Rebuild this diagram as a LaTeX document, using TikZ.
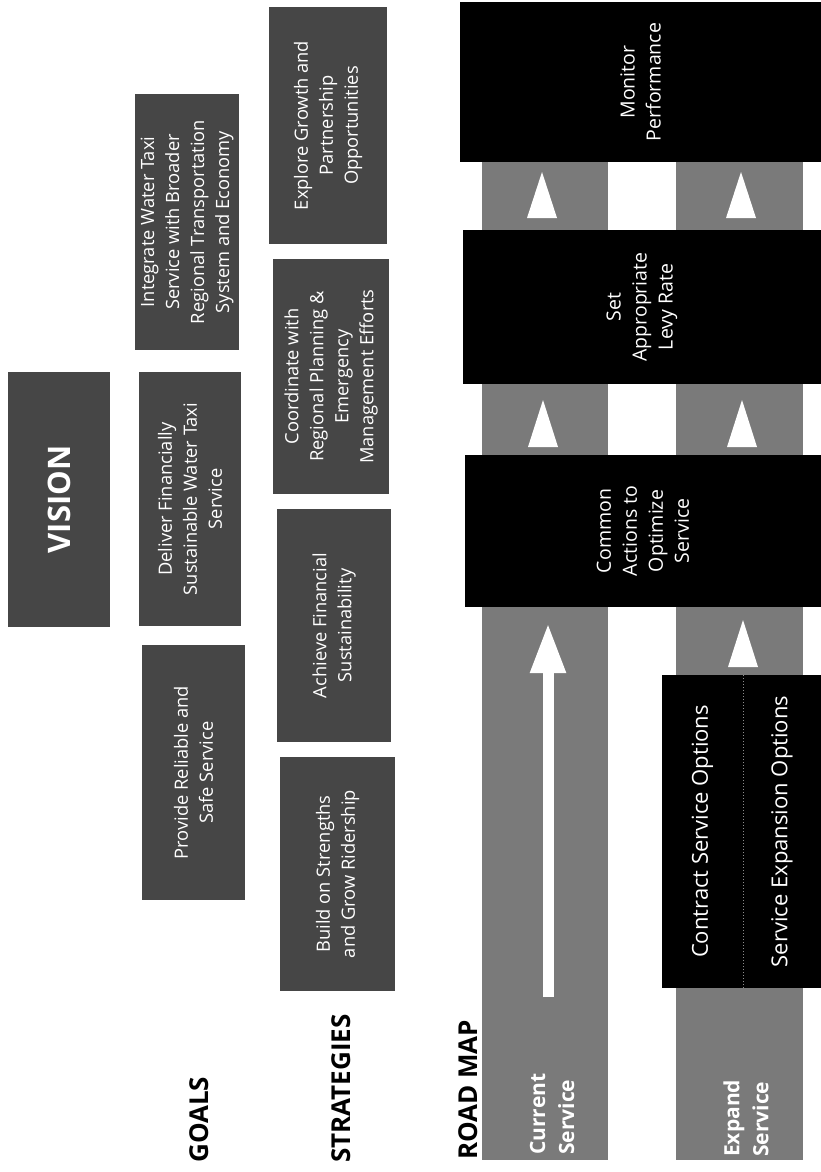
\documentclass[tikz,border=0pt]{standalone}
\usepackage{fontspec}
\setmainfont{Open Sans}
\usetikzlibrary{arrows.meta}
\definecolor{boxgray}{HTML}{464646}
\definecolor{lanegray}{HTML}{7A7A7A}
\definecolor{divgray}{HTML}{8C8C8C}
\begin{document}
\begin{tikzpicture}[x=1pt,y=-1pt,
  darkbox/.style={fill=boxgray, text=white, rotate=90, inner sep=0pt, align=center,
    font=\fontsize{18.3}{25}\selectfont},
  blackbox/.style={fill=black, text=white, rotate=90, inner sep=0pt, align=center,
    font=\fontsize{19.5}{26}\selectfont},
  optbox/.style={fill=black, text=white, rotate=90, inner sep=0pt, align=center,
    font=\fontsize{22}{26}\selectfont},
  sectlabel/.style={rotate=90, anchor=base west, inner sep=0pt, text=black,
    font=\bfseries\fontsize{26}{30}\selectfont},
  lanelabel/.style={rotate=90, anchor=west, inner sep=0pt, align=left, text=white,
    font=\bfseries\fontsize{21}{29}\selectfont},
  lane/.style={fill=lanegray},
  tri/.style={fill=white},
  fatarrow/.style={draw=white, line width=11pt, -{Triangle[width=33pt,length=50pt]}},
]
% canvas
\useasboundingbox[fill=white] (0,0) rectangle (821,1172);

% ---------- vision ----------
\node[darkbox, minimum width=255pt, minimum height=102pt] (vision) at (59,499.5)
  {\bfseries\fontsize{31}{36}\selectfont VISION};

% ---------- goals ----------
\node[darkbox, minimum width=256pt, minimum height=104pt] (g3) at (187,222)
  {Integrate Water Taxi\\Service with Broader\\Regional Transportation\\System and Economy};
\node[darkbox, minimum width=254pt, minimum height=102pt] (g2) at (190,499)
  {Deliver Financially\\Sustainable Water Taxi\\Service};
\node[darkbox, minimum width=255pt, minimum height=103pt] (g1) at (193.5,772.5)
  {Provide Reliable and\\Safe Service};

% ---------- strategies ----------
\node[darkbox, minimum width=237pt, minimum height=118pt] (s5) at (328,125.5)
  {Explore Growth and\\Partnership\\Opportunities};
\node[darkbox, minimum width=235pt, minimum height=116pt] (s4) at (331,376.5)
  {Coordinate with\\Regional Planning \&\\Emergency\\Management Efforts};
\node[darkbox, minimum width=233pt, minimum height=114pt] (s3) at (334,625.5)
  {Achieve Financial\\Sustainability};
\node[darkbox, minimum width=234pt, minimum height=115pt] (s2) at (337.5,874)
  {Build on Strengths\\and Grow Ridership};

% ---------- section labels ----------
\node[sectlabel] (lgoals) at (208,1163) {GOALS};
\node[sectlabel] (lstrat) at (350,1163) {STRATEGIES};
\node[sectlabel] (lroad) at (477,1160) {ROAD MAP};

% ---------- road map lanes ----------
\fill[lane] (482,8) rectangle (608,1160);
\fill[lane] (676,8) rectangle (803,1160);

% ---------- road map boxes ----------
\node[blackbox, minimum width=160pt, minimum height=361pt] (mon) at (640.5,82)
  {Monitor\\Performance};
\node[blackbox, minimum width=154pt, minimum height=358pt] (set) at (642,307)
  {Set\\Appropriate\\Levy Rate};
\node[blackbox, minimum width=152pt, minimum height=356pt] (com) at (643,531)
  {Common\\Actions to\\Optimize\\Service};
\node[optbox, minimum width=313pt, minimum height=81pt] (contract) at (702.5,831.5)
  {Contract Service Options};
\node[optbox, minimum width=313pt, minimum height=78pt] (expans) at (782,831.5)
  {Service Expansion Options};
\draw[divgray, dotted, line width=1pt] (contract.south west) -- (contract.south east);

% ---------- lane labels ----------
\node[lanelabel] (cur) at (552,1155) {Current\\Service};
\node[lanelabel] (exp) at (746,1157) {Expand\\Service};

% ---------- flow triangles ----------
\coordinate (a1) at (542,172);
\coordinate (a2) at (741,172);
\coordinate (b1) at (543,400);
\coordinate (b2) at (742,400);
\coordinate (c2) at (743,620);
\fill[tri] (a1) -- ++(15,46) -- ++(-30,0) -- cycle;
\fill[tri] (a2) -- ++(15,46) -- ++(-30,0) -- cycle;
\fill[tri] (b1) -- ++(15,47) -- ++(-30,0) -- cycle;
\fill[tri] (b2) -- ++(15,47) -- ++(-30,0) -- cycle;
\fill[tri] (c2) -- ++(15,47) -- ++(-30,0) -- cycle;

% ---------- current service arrow ----------
\coordinate (curS) at (548,997);
\coordinate (curE) at (548,623);
\draw[fatarrow] (curS) -- (curE);
\end{tikzpicture}
\end{document}
